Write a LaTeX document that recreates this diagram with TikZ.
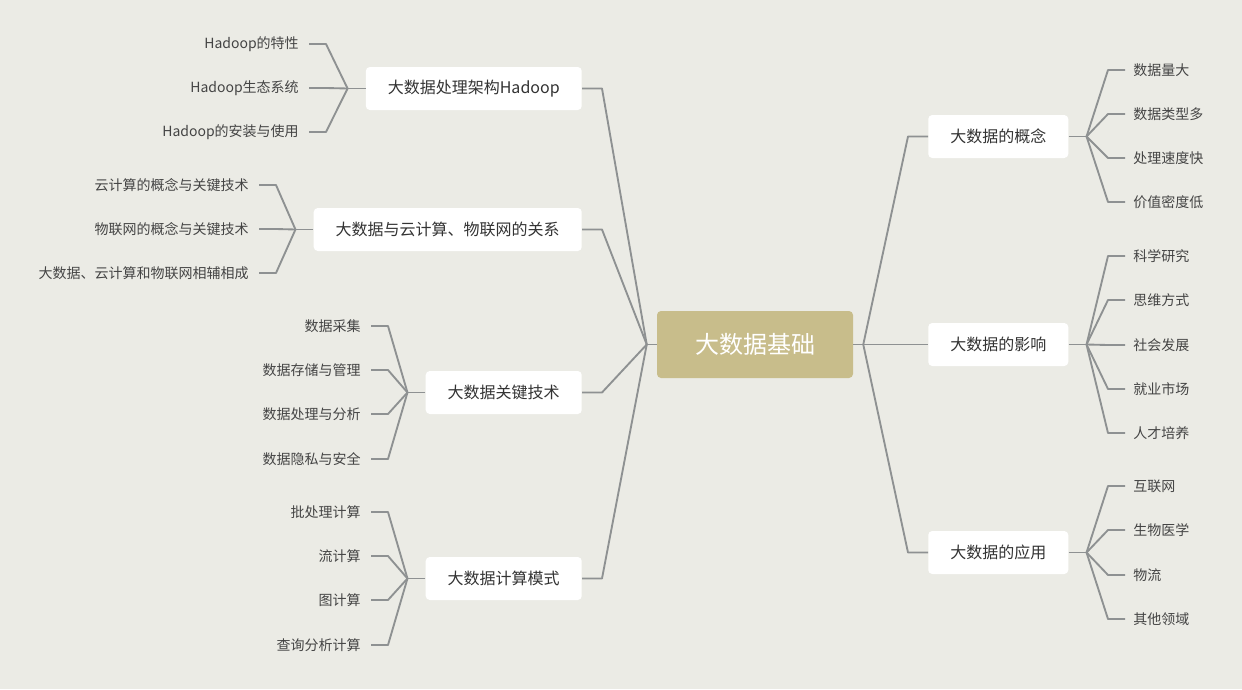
\documentclass[tikz,border=0pt]{standalone}
\usepackage{fontspec}
\setmainfont{Noto Sans CJK SC}
\usetikzlibrary{positioning}

\definecolor{bgcol}{HTML}{EBEBE5}
\definecolor{linkcol}{HTML}{8E9192}
\definecolor{rootcol}{HTML}{C8BD8B}
\definecolor{txtcol}{HTML}{333333}
\definecolor{leafcol}{HTML}{444444}

\tikzset{
  link/.style={draw=linkcol,line width=1.4pt,line join=round},
  topic/.style={fill=white,rounded corners=3pt,minimum height=32.25pt,inner xsep=16.5pt,
    font=\fontsize{12}{14}\selectfont,text=txtcol},
  leaf/.style={inner sep=0pt,font=\fontsize{10.5}{12}\selectfont,text=leafcol},
}

\begin{document}
\begin{tikzpicture}[x=0.75pt,y=-0.75pt]
  \fill[bgcol] (0,0) rectangle (1242,689);
  % centre
  \node[fill=rootcol,rounded corners=3pt,minimum width=147pt,minimum height=50.25pt,
    text=white,font=\fontsize{18}{20}\selectfont] (root) at (755,344.5) {大数据基础};
  \coordinate (jl) at ([xshift=-7.5pt]root.west);
  \coordinate (jr) at ([xshift=7.5pt]root.east);
  \draw[link] (root.west) -- (jl);
  \draw[link] (root.east) -- (jr);

  % main topics, left
  \node[topic,anchor=east] (hadoop) at (582,88.5) {大数据处理架构Hadoop};
  \node[topic,anchor=east] (cloud) at (582,229.5) {大数据与云计算、物联网的关系};
  \node[topic,anchor=east] (tech) at (582,392.5) {大数据关键技术};
  \node[topic,anchor=east] (mode) at (582,578.5) {大数据计算模式};
  % main topics, right
  \node[topic,anchor=west] (concept) at (928,136.5) {大数据的概念};
  \node[topic,anchor=west] (impact) at (928,344.5) {大数据的影响};
  \node[topic,anchor=west] (apply) at (928,552.5) {大数据的应用};

  \draw[link] (jl) -- ([xshift=15pt]hadoop.east) -- (hadoop.east);
  \draw[link] (jl) -- ([xshift=15pt]cloud.east) -- (cloud.east);
  \draw[link] (jl) -- ([xshift=15pt]tech.east) -- (tech.east);
  \draw[link] (jl) -- ([xshift=15pt]mode.east) -- (mode.east);
  \draw[link] (jr) -- ([xshift=-15pt]concept.west) -- (concept.west);
  \draw[link] (jr) -- ([xshift=-15pt]impact.west) -- (impact.west);
  \draw[link] (jr) -- ([xshift=-15pt]apply.west) -- (apply.west);

  % Hadoop
  \node[leaf,anchor=east] (h1) at (299,44) {Hadoop的特性};
  \node[leaf,anchor=east] (h2) at (299,88) {Hadoop生态系统};
  \node[leaf,anchor=east] (h3) at (299,132) {Hadoop的安装与使用};
  \coordinate (jh) at ([xshift=-13.5pt]hadoop.west);
  \draw[link] (hadoop.west) -- (jh);
  \draw[link] ([xshift=7.5pt]h1.east) -- ++(12.75pt,0) -- (jh);
  \draw[link] ([xshift=7.5pt]h2.east) -- ++(12.75pt,0) -- (jh);
  \draw[link] ([xshift=7.5pt]h3.east) -- ++(12.75pt,0) -- (jh);

  % cloud
  \node[leaf,anchor=east] (c1) at (249,185) {云计算的概念与关键技术};
  \node[leaf,anchor=east] (c2) at (249,229) {物联网的概念与关键技术};
  \node[leaf,anchor=east] (c3) at (249,273) {大数据、云计算和物联网相辅相成};
  \coordinate (jc) at ([xshift=-13.5pt]cloud.west);
  \draw[link] (cloud.west) -- (jc);
  \draw[link] ([xshift=7.5pt]c1.east) -- ++(12.75pt,0) -- (jc);
  \draw[link] ([xshift=7.5pt]c2.east) -- ++(12.75pt,0) -- (jc);
  \draw[link] ([xshift=7.5pt]c3.east) -- ++(12.75pt,0) -- (jc);

  % key technology
  \node[leaf,anchor=east] (t1) at (361,326) {数据采集};
  \node[leaf,anchor=east] (t2) at (361,370) {数据存储与管理};
  \node[leaf,anchor=east] (t3) at (361,414) {数据处理与分析};
  \node[leaf,anchor=east] (t4) at (361,459) {数据隐私与安全};
  \coordinate (jt) at ([xshift=-13.5pt]tech.west);
  \draw[link] (tech.west) -- (jt);
  \draw[link] ([xshift=7.5pt]t1.east) -- ++(12.75pt,0) -- (jt);
  \draw[link] ([xshift=7.5pt]t2.east) -- ++(12.75pt,0) -- (jt);
  \draw[link] ([xshift=7.5pt]t3.east) -- ++(12.75pt,0) -- (jt);
  \draw[link] ([xshift=7.5pt]t4.east) -- ++(12.75pt,0) -- (jt);

  % computing mode
  \node[leaf,anchor=east] (m1) at (361,512) {批处理计算};
  \node[leaf,anchor=east] (m2) at (361,556) {流计算};
  \node[leaf,anchor=east] (m3) at (361,600) {图计算};
  \node[leaf,anchor=east] (m4) at (361,645) {查询分析计算};
  \coordinate (jm) at ([xshift=-13.5pt]mode.west);
  \draw[link] (mode.west) -- (jm);
  \draw[link] ([xshift=7.5pt]m1.east) -- ++(12.75pt,0) -- (jm);
  \draw[link] ([xshift=7.5pt]m2.east) -- ++(12.75pt,0) -- (jm);
  \draw[link] ([xshift=7.5pt]m3.east) -- ++(12.75pt,0) -- (jm);
  \draw[link] ([xshift=7.5pt]m4.east) -- ++(12.75pt,0) -- (jm);

  % concept
  \node[leaf,anchor=west] (k1) at (1133,70) {数据量大};
  \node[leaf,anchor=west] (k2) at (1133,114) {数据类型多};
  \node[leaf,anchor=west] (k3) at (1133,158) {处理速度快};
  \node[leaf,anchor=west] (k4) at (1133,202) {价值密度低};
  \coordinate (jk) at ([xshift=13.5pt]concept.east);
  \draw[link] (concept.east) -- (jk);
  \draw[link] ([xshift=-6pt]k1.west) -- ++(-12.75pt,0) -- (jk);
  \draw[link] ([xshift=-6pt]k2.west) -- ++(-12.75pt,0) -- (jk);
  \draw[link] ([xshift=-6pt]k3.west) -- ++(-12.75pt,0) -- (jk);
  \draw[link] ([xshift=-6pt]k4.west) -- ++(-12.75pt,0) -- (jk);

  % impact
  \node[leaf,anchor=west] (i1) at (1133,256) {科学研究};
  \node[leaf,anchor=west] (i2) at (1133,300) {思维方式};
  \node[leaf,anchor=west] (i3) at (1133,345) {社会发展};
  \node[leaf,anchor=west] (i4) at (1133,389) {就业市场};
  \node[leaf,anchor=west] (i5) at (1133,433) {人才培养};
  \coordinate (ji) at ([xshift=13.5pt]impact.east);
  \draw[link] (impact.east) -- (ji);
  \draw[link] ([xshift=-6pt]i1.west) -- ++(-12.75pt,0) -- (ji);
  \draw[link] ([xshift=-6pt]i2.west) -- ++(-12.75pt,0) -- (ji);
  \draw[link] ([xshift=-6pt]i3.west) -- ++(-12.75pt,0) -- (ji);
  \draw[link] ([xshift=-6pt]i4.west) -- ++(-12.75pt,0) -- (ji);
  \draw[link] ([xshift=-6pt]i5.west) -- ++(-12.75pt,0) -- (ji);

  % application
  \node[leaf,anchor=west] (a1) at (1133,486) {互联网};
  \node[leaf,anchor=west] (a2) at (1133,530) {生物医学};
  \node[leaf,anchor=west] (a3) at (1133,575) {物流};
  \node[leaf,anchor=west] (a4) at (1133,619) {其他领域};
  \coordinate (ja) at ([xshift=13.5pt]apply.east);
  \draw[link] (apply.east) -- (ja);
  \draw[link] ([xshift=-6pt]a1.west) -- ++(-12.75pt,0) -- (ja);
  \draw[link] ([xshift=-6pt]a2.west) -- ++(-12.75pt,0) -- (ja);
  \draw[link] ([xshift=-6pt]a3.west) -- ++(-12.75pt,0) -- (ja);
  \draw[link] ([xshift=-6pt]a4.west) -- ++(-12.75pt,0) -- (ja);
\end{tikzpicture}
\end{document}
